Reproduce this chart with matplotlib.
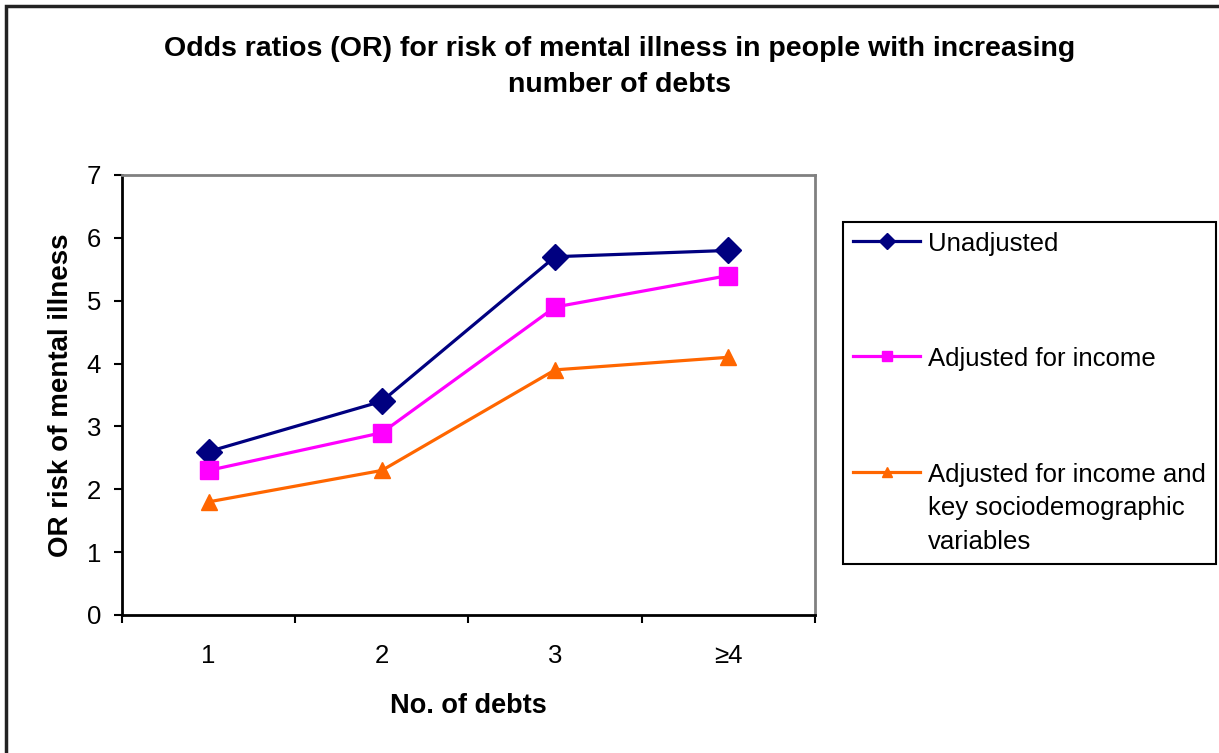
import matplotlib
matplotlib.use('Agg')
import matplotlib.pyplot as plt
from matplotlib.patches import Rectangle

plt.rcParams['font.family'] = ['Liberation Sans', 'DejaVu Sans']

categories = ['1', '2', '3', '≥4']
unadjusted = [2.6, 3.4, 5.7, 5.8]
adj_income = [2.3, 2.9, 4.9, 5.4]
adj_full = [1.8, 2.3, 3.9, 4.1]

series_names = ['Unadjusted', 'Adjusted for income',
                'Adjusted for income and\nkey sociodemographic\nvariables']

W, H = 1219, 753
fig = plt.figure(figsize=(W / 100, H / 100), dpi=100)
ax = fig.add_axes([122 / W, 1 - 615 / H, (815 - 122) / W, (615 - 175) / H])

x = list(range(len(categories)))
ax.plot(x, unadjusted, color='#000080', marker='D', markersize=13, linewidth=2.3,
        label=series_names[0])
ax.plot(x, adj_income, color='#FF00FF', marker='s', markersize=13, linewidth=2.3,
        label=series_names[1])
ax.plot(x, adj_full, color='#FF6600', marker='^', markersize=12, linewidth=2.3,
        label=series_names[2])

ax.set_xlim(-0.5, len(categories) - 0.5)
ax.set_ylim(0, 7)
ax.set_yticks(range(0, 8))
ax.set_xticks(x)
ax.set_xticklabels(categories)
ax.set_xticks([i - 0.5 for i in range(len(categories) + 1)], minor=True)
ax.tick_params(axis='x', which='major', length=0, pad=21, labelsize=18.5)
ax.tick_params(axis='x', which='minor', length=6, width=1.5, direction='out')
ax.tick_params(axis='y', length=6, width=1.5, pad=9, labelsize=18.5)

for s in ['left', 'bottom']:
    ax.spines[s].set_color('black')
    ax.spines[s].set_linewidth(2)
for s in ['top', 'right']:
    ax.spines[s].set_color('#808080')
    ax.spines[s].set_linewidth(2)

ax.set_xlabel('No. of debts', fontsize=19.5, fontweight='bold', labelpad=18)
ax.set_ylabel('OR risk of mental illness', fontsize=20, fontweight='bold', labelpad=9)

fig.text(620 / W, 1 - 67 / H,
         'Odds ratios (OR) for risk of mental illness in people with increasing\nnumber of debts',
         ha='center', va='center', fontsize=20.5, fontweight='bold', linespacing=1.55)

leg = ax.legend(loc='upper left', bbox_to_anchor=(843 / W, 1 - 222 / H),
                bbox_transform=fig.transFigure, borderaxespad=0, fontsize=18.5,
                frameon=True, fancybox=False, edgecolor='black', framealpha=1,
                handlelength=2.6, handletextpad=0.3, labelspacing=3.55,
                borderpad=0.4, markerscale=0.6)
leg.get_frame().set_linewidth(1.5)
for t in leg.get_texts():
    t.set_linespacing(1.5)
# put the line handle next to the first line of a multi-line label
for col in leg._legend_handle_box.get_children():
    for row in col.get_children():
        row.align = 'top'

fig.patches.append(Rectangle((6 / W, -0.1), 1.2, 1 - 6 / H + 0.1,
                             transform=fig.transFigure, fill=False,
                             edgecolor='#222222', linewidth=2.5))

fig.savefig('out.png', dpi=100)
